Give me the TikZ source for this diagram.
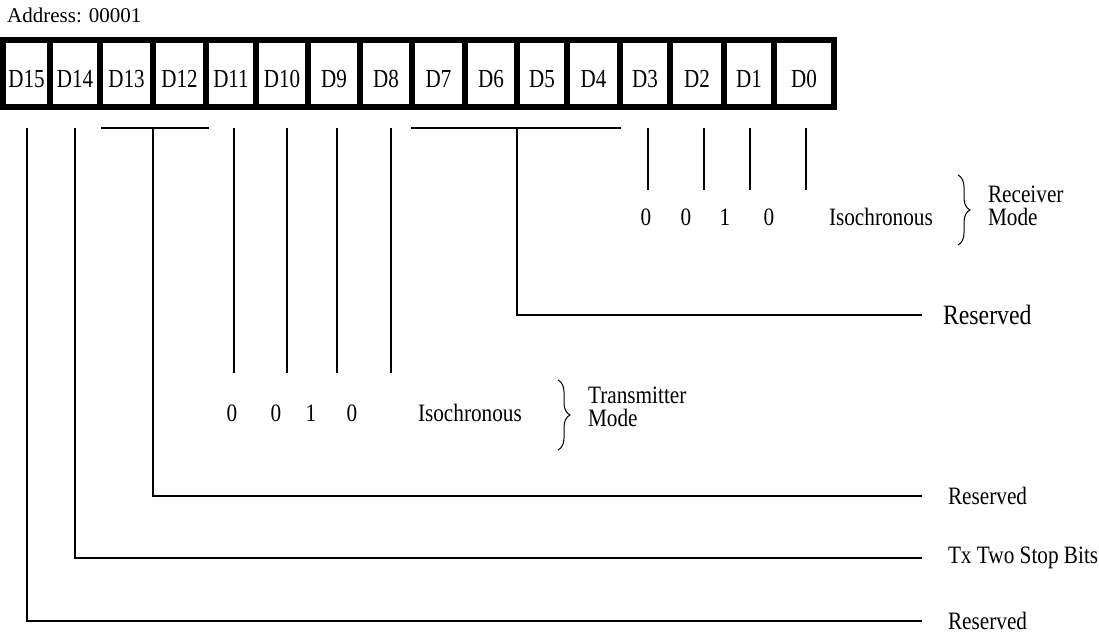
\documentclass[tikz,border=0pt]{standalone}
\usepackage{fontspec}
\setmainfont{Liberation Serif}[FakeStretch=0.85]
\newfontfamily\cellfont{Liberation Serif}[FakeStretch=0.81]
\newfontfamily\addrfont{Liberation Serif}
\usetikzlibrary{positioning,decorations.pathreplacing}

\tikzset{
  bitcell/.style={draw, line width=6pt, minimum height=67pt, inner sep=0pt,
    text height=27pt, text depth=0pt, font=\cellfont\fontsize{26}{26}\selectfont},
  wire/.style={line width=2pt},
  note/.style={inner sep=0pt, outer sep=0pt, font=\fontsize{25}{20}\selectfont},
  bignote/.style={note, font=\fontsize{28}{28}\selectfont},
  curly/.style={decorate, decoration={brace, amplitude=12pt}, line width=1pt}
}

\begin{document}
\begin{tikzpicture}[x=1pt, y=-1pt]
    \useasboundingbox (0,0) rectangle (1099,633);

    % Register header
    \node[anchor=base west, inner sep=0pt, font=\addrfont\fontsize{21}{21}\selectfont] (addr) at (7,22) {Address: 00001};

    % Bit cells
    \foreach \l/\r/\b in {3/50/15,50/100/14,100/153/13,153/206/12,206/256/11,256/308/10,308/360/9,360/412/8,
                          412/465/7,465/517/6,517/567/5,567/620/4,620/670/3,670/724/2,724/774/1,774/834/0}
        \node[bitcell, minimum width={(\r-\l)*1pt}] (d\b) at ({(\l+\r)/2},73.5) {D\b};

    % Field names on the right
    \node[bignote, anchor=west] (rsvC) at (943,315) {Reserved};
    \node[note, anchor=west] (rsvA) at (948,496) {Reserved};
    \node[note, anchor=west] (stop) at (948,558) {Tx Two Stop Bits};
    \node[note, anchor=west] (rsvB) at (948,621) {Reserved};

    % D15, D14
    \draw[wire, shorten <=18pt, shorten >=26pt] (d15.south) |- (rsvB.west);
    \draw[wire, shorten <=18pt, shorten >=26pt] (d14.south) |- (stop.west);

    % D13-D12
    \coordinate (g13l) at (101,128);
    \coordinate (g13r) at (209,128);
    \coordinate (g13) at (153,128);
    \draw[wire] (g13l) -- (g13r);
    \draw[wire, shorten >=26pt] (g13) |- (rsvA.west);

    % D7-D4
    \coordinate (g7l) at (411,128);
    \coordinate (g7r) at (621,128);
    \coordinate (g7) at (517,128);
    \draw[wire] (g7l) -- (g7r);
    \draw[wire, shorten >=21pt] (g7) |- (rsvC.west);

    % Transmitter mode bits D11-D8
    \foreach \b/\x in {11/234,10/287,9/337,8/391}{
        \coordinate (e\b) at (\x,373);
        \draw[wire, shorten <=18pt] (e\b |- d\b.south) -- (e\b);
    }
    \foreach \x/\v in {232/0,276/0,311/1,352/0}
        \node[note] (tv\x) at (\x,413) {\v};
    \node[note, anchor=west] (txiso) at (418,413) {Isochronous};
    \coordinate (txbt) at (558,380);
    \coordinate (txbb) at (558,450);
    \draw[curly] (txbt) -- (txbb);
    \node[note, anchor=base west] (txlbl) at (588,403) {Transmitter};
    \node[note, anchor=base west] (txmode) at (588,426) {Mode};

    % Receiver mode bits D3-D0
    \foreach \b/\x in {3/648,2/704,1/750,0/806}{
        \coordinate (e\b) at (\x,190);
        \draw[wire, shorten <=18pt] (e\b |- d\b.south) -- (e\b);
    }
    \foreach \x/\v in {646/0,686/0,725/1,769/0}
        \node[note] (rv\x) at (\x,217) {\v};
    \node[note, anchor=west] (rxiso) at (829,217) {Isochronous};
    \coordinate (rxbt) at (958,175);
    \coordinate (rxbb) at (958,245);
    \draw[curly] (rxbt) -- (rxbb);
    \node[note, anchor=base west] (rxlbl) at (988,202) {Receiver};
    \node[note, anchor=base west] (rxmode) at (988,225) {Mode};

\end{tikzpicture}
\end{document}
